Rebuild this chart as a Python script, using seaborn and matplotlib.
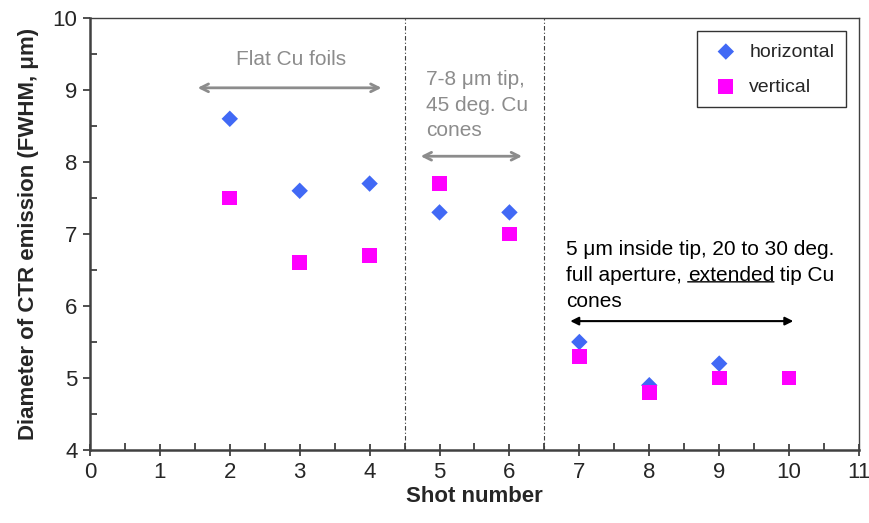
import pandas as pd
import matplotlib
matplotlib.use("Agg")
import matplotlib.pyplot as plt
from matplotlib.ticker import MultipleLocator
import seaborn as sns

# data
h_shots = [2, 3, 4, 5, 6, 7, 8, 9]
h_diam = [8.6, 7.6, 7.7, 7.3, 7.3, 5.5, 4.9, 5.2]
v_shots = [2, 3, 4, 5, 6, 7, 8, 9, 10]
v_diam = [7.5, 6.6, 6.7, 7.7, 7.0, 5.3, 4.8, 5.0, 5.0]
dividers = [4.5, 6.5]

sns.set_style("ticks")
plt.rcParams["font.family"] = ["Liberation Sans", "DejaVu Sans"]

fig = plt.figure(figsize=(8.7, 5.23), dpi=100)
ax = fig.add_axes([0.1034, 0.1396, 0.884, 0.826])

sns.scatterplot(x=h_shots, y=h_diam, marker="D", s=70, color="#4169f5",
                edgecolor="none", label="horizontal", ax=ax, zorder=3)
sns.scatterplot(x=v_shots, y=v_diam, marker="s", s=112, color="#ff00ff",
                edgecolor="none", label="vertical", ax=ax, zorder=4)

for xd in dividers:
    ax.axvline(xd, color="#404040", lw=0.8, ls=(0, (4, 2, 1, 2)), zorder=1)

ax.set_xlim(0, 11)
ax.set_ylim(4, 10)
ax.xaxis.set_major_locator(MultipleLocator(1))
ax.xaxis.set_minor_locator(MultipleLocator(0.5))
ax.yaxis.set_major_locator(MultipleLocator(1))
ax.yaxis.set_minor_locator(MultipleLocator(0.5))
ax.tick_params(axis="x", which="major", direction="inout", length=8, width=1.3,
               labelsize=16, color="#404040", pad=5)
ax.tick_params(axis="x", which="minor", direction="in", length=5, width=1.3,
               color="#404040")
ax.tick_params(axis="y", which="major", direction="out", length=5, width=1.3,
               labelsize=16, color="#404040", pad=4)
ax.tick_params(axis="y", which="minor", direction="in", length=5, width=1.3,
               color="#404040")

for side in ["left", "bottom"]:
    ax.spines[side].set_linewidth(1.8)
    ax.spines[side].set_color("#404040")
for side in ["top", "right"]:
    ax.spines[side].set_linewidth(1.0)
    ax.spines[side].set_color("#404040")

ax.set_xlabel("Shot number", fontsize=16, fontweight="bold", labelpad=2)
ax.set_ylabel("Diameter of CTR emission (FWHM, μm)", fontsize=16,
              fontweight="bold", labelpad=10)

leg = ax.legend(loc="upper right", bbox_to_anchor=(0.998, 0.996), fontsize=14,
                frameon=True, fancybox=False, edgecolor="black",
                labelspacing=0.9, handletextpad=0.3, borderpad=0.6,
                handlelength=1.8, borderaxespad=0.6)
leg.get_frame().set_linewidth(1.0)

gray = "#8c8c8c"
# flat foils
ax.text(2.88, 9.42, "Flat Cu foils", color=gray, fontsize=15,
        ha="center", va="center")
ax.annotate("", xy=(1.54, 9.03), xytext=(4.17, 9.03),
            arrowprops=dict(arrowstyle="<->", color=gray, lw=2,
                            mutation_scale=14, shrinkA=0, shrinkB=0))
# 45 deg cones
for yy, line in zip([9.14, 8.79, 8.44], ["7-8 μm tip,", "45 deg. Cu", "cones"]):
    ax.text(4.81, yy, line, color=gray, fontsize=15, ha="left", va="center")
ax.annotate("", xy=(4.73, 8.08), xytext=(6.18, 8.08),
            arrowprops=dict(arrowstyle="<->", color=gray, lw=2,
                            mutation_scale=14, shrinkA=0, shrinkB=0))
# extended tip cones
ax.text(6.81, 6.78, "5 μm inside tip, 20 to 30 deg.", fontsize=15,
        ha="left", va="center", color="black")
t2 = ax.text(6.81, 6.42, "full aperture, ", fontsize=15,
             ha="left", va="center", color="black")
t3 = ax.annotate("extended", xy=(1, 0), xycoords=t2, fontsize=15,
                 ha="left", va="bottom", color="black")
ax.annotate(" tip Cu", xy=(1, 0), xycoords=t3, fontsize=15,
            ha="left", va="bottom", color="black")
ax.annotate("", xy=(0, 0.18), xycoords=t3, xytext=(1, 0.18), textcoords=t3,
            arrowprops=dict(arrowstyle="-", color="black", lw=1,
                            shrinkA=0, shrinkB=0))
ax.text(6.81, 6.06, "cones", fontsize=15, ha="left", va="center", color="black")
ax.annotate("", xy=(6.87, 5.79), xytext=(10.06, 5.79),
            arrowprops=dict(arrowstyle="<|-|>", color="black", lw=1.5,
                            mutation_scale=12, shrinkA=0, shrinkB=0))

fig.savefig("out.png", dpi=100)
